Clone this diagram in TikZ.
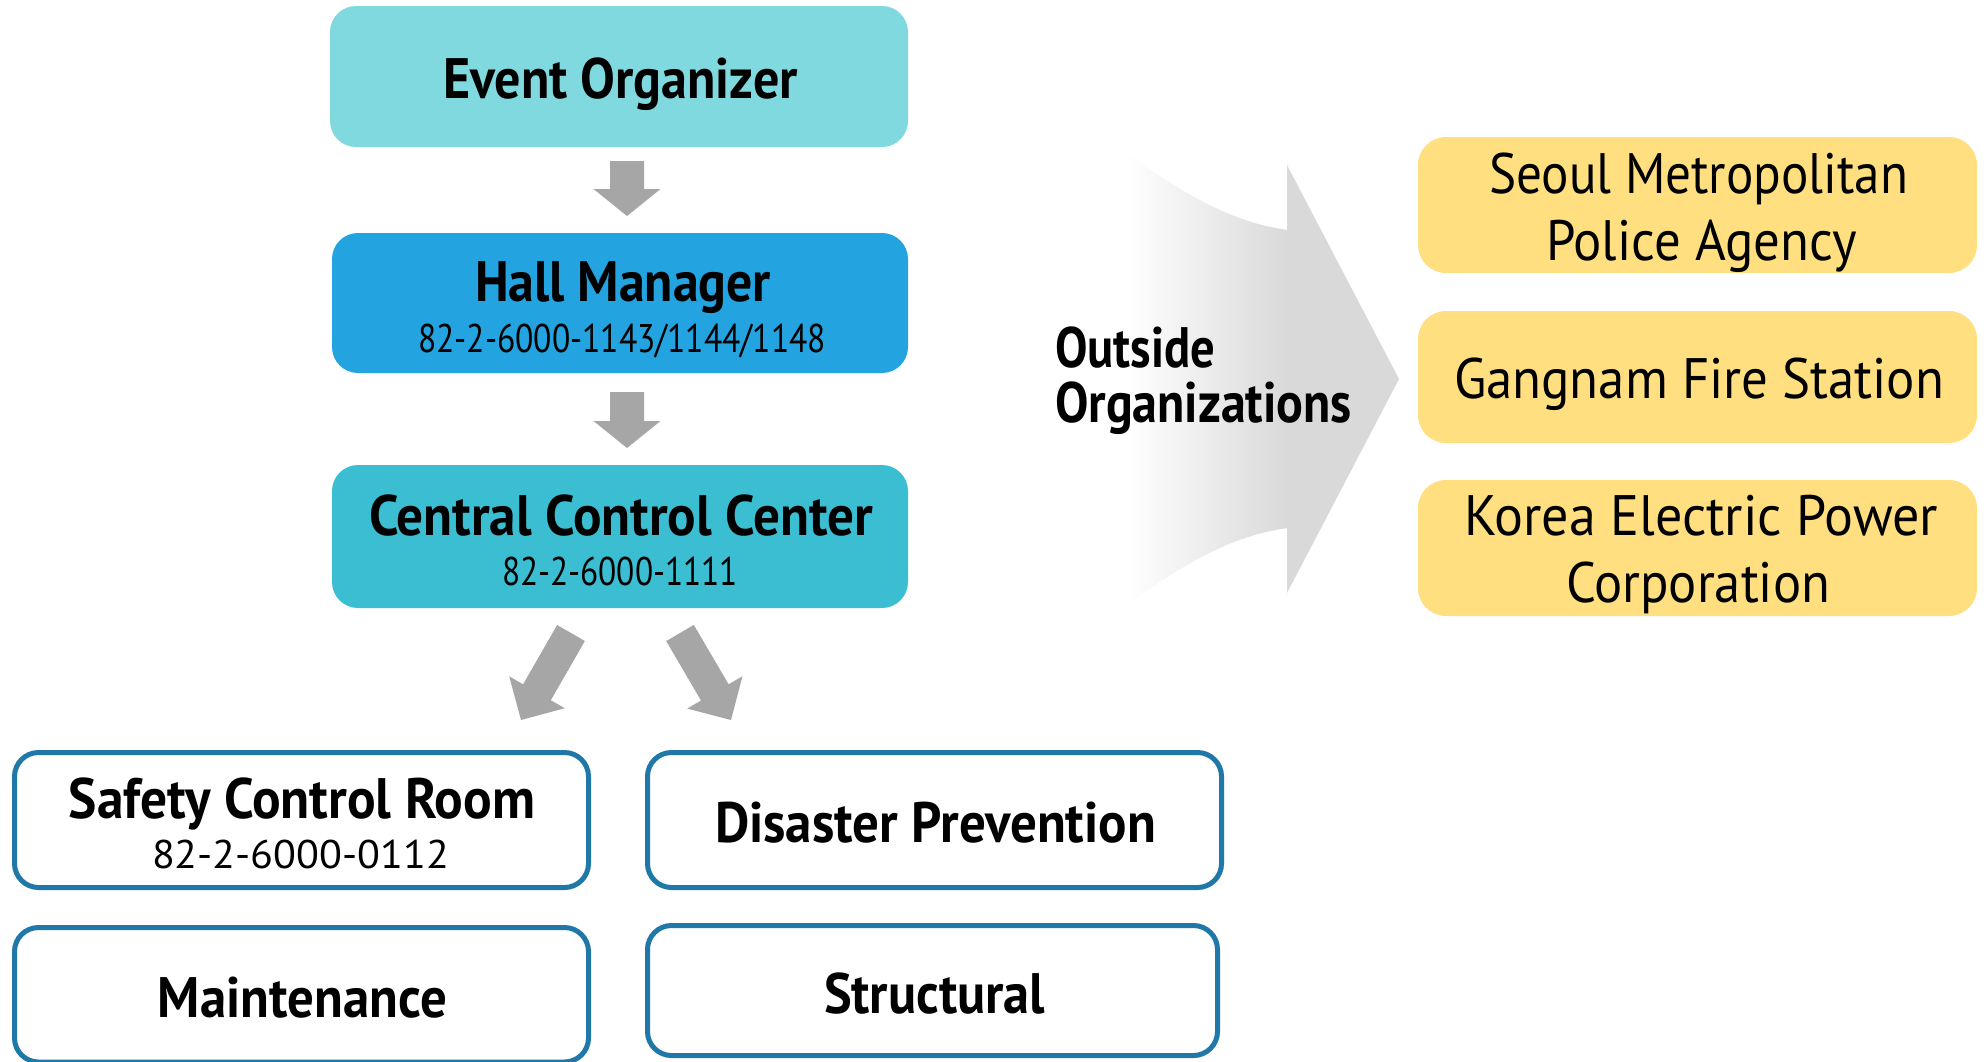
\documentclass[tikz,border=0pt]{standalone}
\usepackage{fontspec}
\setmainfont{PT Sans}
\usepackage{graphicx}
\usetikzlibrary{calc}
\definecolor{eoC}{RGB}{128,217,222}
\definecolor{hmC}{RGB}{35,163,223}
\definecolor{ccC}{RGB}{60,190,210}
\definecolor{ylC}{RGB}{255,223,128}
\definecolor{bdC}{RGB}{31,120,168}
\definecolor{agC}{RGB}{166,166,166}
\definecolor{bgC}{RGB}{217,217,217}
\newcommand\fitt[2]{\resizebox{#1}{\height}{#2}}
% start, end, head length, shaft half width, head half width
\newcommand\blockarrow[5]{%
  \coordinate (ba-h) at ($(#2)!#3!(#1)$);
  \fill[agC] ($(#1)!#4!90:(#2)$) -- ($(ba-h)!#4!90:(#2)$) -- ($(ba-h)!#5!90:(#2)$)
    -- (#2) -- ($(ba-h)!#5!-90:(#2)$) -- ($(ba-h)!#4!-90:(#2)$) -- ($(#1)!#4!-90:(#2)$) -- cycle;}
\begin{document}
\begin{tikzpicture}[x=1pt,y=1pt,
  box/.style={rectangle, rounded corners=26pt, inner sep=0pt, outer sep=0pt},
  obox/.style={box, draw=bdC, line width=5pt, fill=white, rounded corners=24pt},
  hd/.style={anchor=base, inner sep=0pt, outer sep=0pt, font=\fontsize{57pt}{60pt}\selectfont\bfseries},
  rg/.style={anchor=base, inner sep=0pt, outer sep=0pt, font=\fontsize{57pt}{60pt}\selectfont},
  ph/.style={anchor=base, inner sep=0pt, outer sep=0pt, font=\fontsize{40pt}{44pt}\selectfont}]
\useasboundingbox (0,0) rectangle (1986,-1061);
\fill[white] (0,0) rectangle (1986,-1061);

% left column boxes
\node[box, fill=eoC, minimum width=578pt, minimum height=141pt] (eo) at (619,-76.5) {};
\node[box, fill=hmC, minimum width=576pt, minimum height=140pt] (hm) at (620,-303) {};
\node[box, fill=ccC, minimum width=576pt, minimum height=143pt] (cc) at (620,-536.5) {};

\node[hd] (eoT) at (620.5,-98) {\fitt{355pt}{Event Organizer}};
\node[hd] (hmT) at (623,-301) {\fitt{296pt}{Hall Manager}};
\node[ph] (hmP) at (622,-352) {\fitt{408pt}{82-2-6000-1143/1144/1148}};
\node[hd] (ccT) at (621,-535) {\fitt{504pt}{Central Control Center}};
\node[ph] (ccP) at (620,-585) {\fitt{236pt}{82-2-6000-1111}};

% bottom boxes
\node[obox, minimum width=574pt, minimum height=135pt] (sc) at (301.5,-820) {};
\node[obox, minimum width=574pt, minimum height=135pt] (dp) at (934.5,-820) {};
\node[obox, minimum width=574pt, minimum height=134.5pt] (mt) at (301.5,-994.75) {};
\node[obox, minimum width=570pt, minimum height=130pt] (st) at (932.5,-990.5) {};

\node[hd] (scT) at (302,-818) {\fitt{466pt}{Safety Control Room}};
\node[ph] (scP) at (300.5,-868) {\fitt{297pt}{82-2-6000-0112}};
\node[hd] (dpT) at (935.5,-842) {\fitt{441pt}{Disaster Prevention}};
\node[hd] (mtT) at (302.5,-1017) {\fitt{289pt}{Maintenance}};
\node[hd] (stT) at (934.5,-1013) {\fitt{221pt}{Structural}};

% block arrows
\blockarrow{$(eo.south)+(8,-14)$}{$(hm.north)+(7,17)$}{27pt}{17pt}{33.5pt}
\blockarrow{$(hm.south)+(7,-19)$}{$(cc.north)+(7,17)$}{27pt}{17pt}{33.5pt}
\blockarrow{$(cc.south)+(-49,-25)$}{$(cc.south)+(-99,-112)$}{32pt}{16pt}{32pt}
\blockarrow{$(cc.south)+(60,-25)$}{$(cc.south)+(111,-112)$}{32pt}{16pt}{32pt}

% outside arrow
\shade[left color=white, right color=bgC] (1127,-153) .. controls (1180,-192) and (1232,-223) .. (1288,-230)
  -- (1288,-528) .. controls (1232,-535) and (1180,-566) .. (1127,-605) -- cycle;
\fill[bgC] (1287,-165) -- (1399,-379) -- (1287,-593) -- cycle;
\node[hd, anchor=base west] (oo1) at (1055,-367) {\fitt{160pt}{Outside}};
\node[hd, anchor=base west] (oo2) at (1055,-422) {\fitt{297pt}{Organizations}};

% yellow boxes
\node[box, fill=ylC, minimum width=559pt, minimum height=136pt, rounded corners=28pt] (y1) at (1697.5,-205) {};
\node[box, fill=ylC, minimum width=559pt, minimum height=132pt, rounded corners=28pt] (y2) at (1697.5,-377) {};
\node[box, fill=ylC, minimum width=559pt, minimum height=136pt, rounded corners=28pt] (y3) at (1697.5,-548) {};

\node[rg] (y1a) at (1698.5,-193) {\fitt{419pt}{Seoul Metropolitan}};
\node[rg] (y1b) at (1701.5,-260) {\fitt{311pt}{Police Agency}};
\node[rg] (y2a) at (1699,-398) {\fitt{490pt}{Gangnam Fire Station}};
\node[rg] (y3a) at (1701,-535) {\fitt{474pt}{Korea Electric Power}};
\node[rg] (y3b) at (1698,-602) {\fitt{264pt}{Corporation}};
\end{tikzpicture}
\end{document}
